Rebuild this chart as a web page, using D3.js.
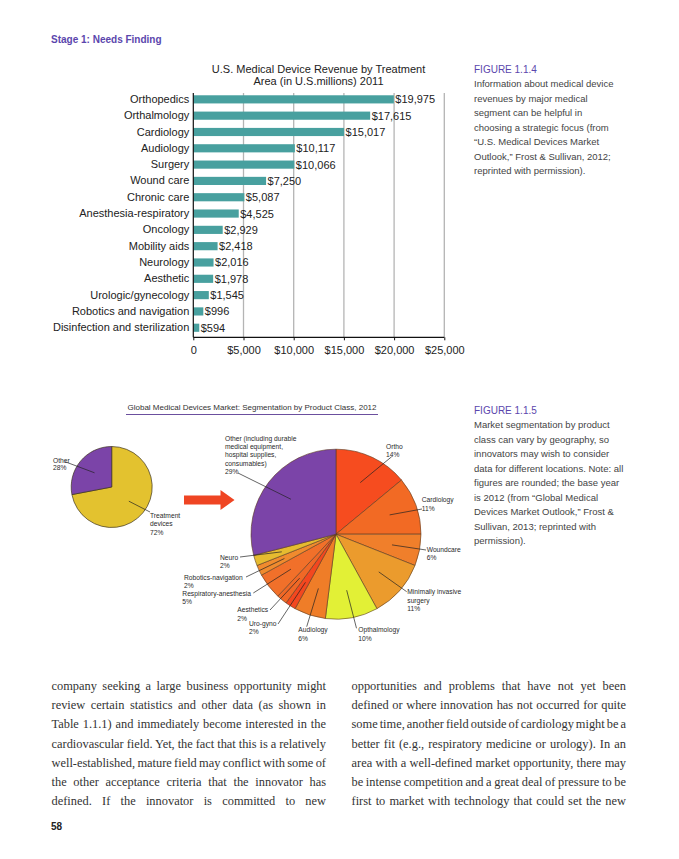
<!DOCTYPE html>
<html><head><meta charset="utf-8">
<script src="https://cdn.jsdelivr.net/npm/d3@7"></script>
<style>body{margin:0;background:#fff}svg{display:block}</style>
</head><body>
<svg id="c" width="679" height="859"></svg>
<script>
// ---------- DATA ----------
const categories = ["Orthopedics","Orthalmology","Cardiology","Audiology","Surgery","Wound care","Chronic care","Anesthesia-respiratory","Oncology","Mobility aids","Neurology","Aesthetic","Urologic/gynecology","Robotics and navigation","Disinfection and sterilization"];
const revenues = [19975,17615,15017,10117,10066,7250,5087,4525,2929,2418,2016,1978,1545,996,594];
const xTicks = [0,5000,10000,15000,20000,25000];

const overviewLabels = ["Treatment\ndevices\n72%","Other\n28%"];
const overviewShares = [72,28];

const segmentLabels = ["Ortho\n14%","Cardiology\n11%","Woundcare\n6%","Minimally invasive\nsurgery\n11%","Opthalmology\n10%","Audiology\n6%","Uro-gyno\n2%","Aesthetics\n2%","Respiratory-anesthesia\n5%","Robotics-navigation\n2%","Neuro\n2%","Other (including durable\nmedical equipment,\nhospital supplies,\nconsumables)\n29%"];
const segmentShares = [14,11,6,11,10,6,2,2,5,2,2,29];

const leftColumn = ["company seeking a large business opportunity might","review certain statistics and other data (as shown in","Table 1.1.1) and immediately become interested in the","cardiovascular field. Yet, the fact that this is a relatively","well-established, mature field may conflict with some of","the other acceptance criteria that the innovator has","defined. If the innovator is committed to new"];
const rightColumn = ["opportunities and problems that have not yet been","defined or where innovation has not occurred for quite","some time, another field outside of cardiology might be a","better fit (e.g., respiratory medicine or urology). In an","area with a well-defined market opportunity, there may","be intense competition and a great deal of pressure to be","first to market with technology that could set the new"];

const caption1 = ["Information about medical device","revenues by major medical","segment can be helpful in","choosing a strategic focus (from","“U.S. Medical Devices Market","Outlook,” Frost & Sullivan, 2012;","reprinted with permission)."];
const caption2 = ["Market segmentation by product","class can vary by geography, so","innovators may wish to consider","data for different locations. Note: all","figures are rounded; the base year","is 2012 (from “Global Medical","Devices Market Outlook,” Frost &","Sullivan, 2013; reprinted with","permission)."];

// ---------- LAYOUT / STYLE ----------
const svg = d3.select("#c");
const SANS = "'Liberation Sans', Arial, sans-serif";
const SERIF = "'Liberation Serif', 'Times New Roman', serif";
const PURPLE = "#5b46ad";
svg.append("rect").attr("width",679).attr("height",859).attr("fill","#fff");

svg.append("text").attr("x",51).attr("y",43).attr("font-family",SANS).attr("font-size",10)
  .attr("font-weight","bold").attr("fill",PURPLE).text("Stage 1: Needs Finding");

// ---------- BAR CHART ----------
const FS = 11;
const x = d3.scaleLinear().domain([0,25000]).range([193.3,444.3]);
const y = d3.scaleBand().domain(categories).range([91.2,335.9]).paddingInner(0.5).paddingOuter(0.25);
const bar = svg.append("g");
const axisY = 337.3, gridTop = 93;

bar.append("text").attr("x",318.5).attr("y",72.5).attr("text-anchor","middle")
  .attr("font-family",SANS).attr("font-size",FS).attr("fill","#222").text("U.S. Medical Device Revenue by Treatment");
bar.append("text").attr("x",318.5).attr("y",85.3).attr("text-anchor","middle")
  .attr("font-family",SANS).attr("font-size",FS).attr("fill","#222").text("Area (in U.S.millions) 2011");

bar.selectAll("line.grid").data(xTicks.slice(1)).join("line").attr("class","grid")
  .attr("x1",d=>x(d)).attr("x2",d=>x(d)).attr("y1",gridTop).attr("y2",axisY)
  .attr("stroke","#b4b4b4").attr("stroke-width",1.3);

bar.selectAll("rect.bar").data(revenues).join("rect").attr("class","bar")
  .attr("x",x(0)).attr("y",(d,i)=>y(categories[i])).attr("width",d=>x(d)-x(0))
  .attr("height",y.bandwidth()).attr("fill","#48a09f");

const fmt = d3.format("$,");
bar.selectAll("text.val").data(revenues).join("text").attr("class","val")
  .attr("x",d=>x(d)+1.5).attr("y",(d,i)=>y(categories[i])+y.bandwidth()/2+4)
  .attr("font-family",SANS).attr("font-size",FS).attr("fill","#222").text(d=>fmt(d));

const yAxis = bar.append("g").attr("transform",`translate(${x(0)},0)`)
  .call(d3.axisLeft(y).tickSize(0).tickPadding(4));
yAxis.select(".domain").remove();
yAxis.selectAll("text").attr("font-family",SANS).attr("font-size",FS).attr("fill","#222");
bar.append("line").attr("x1",x(0)).attr("x2",x(0)).attr("y1",gridTop).attr("y2",axisY).attr("stroke","#111").attr("stroke-width",1.2);

const xAxis = bar.append("g").attr("transform",`translate(0,${axisY})`)
  .call(d3.axisBottom(x).tickValues(xTicks).tickSize(3).tickPadding(6).tickFormat(d=>d===0?"0":fmt(d)));
xAxis.select(".domain").attr("stroke","#111").attr("stroke-width",1.2).attr("d",`M${x(0)},0H${x(25000)}`);
xAxis.selectAll(".tick line").attr("stroke","#111");
xAxis.selectAll("text").attr("font-family",SANS).attr("font-size",FS).attr("fill","#222");

// ---------- CAPTIONS ----------
function caption(title, lines, x0, y0){
  const g = svg.append("g");
  g.append("text").attr("x",x0).attr("y",y0).attr("font-family",SANS).attr("font-size",10).attr("fill",PURPLE).text(title);
  g.selectAll("text.cl").data(lines).join("text").attr("class","cl")
    .attr("x",x0).attr("y",(d,i)=>y0+14.5*(i+1)).attr("font-family",SANS).attr("font-size",9.5)
    .attr("fill","#444").text(d=>d);
}
caption("FIGURE 1.1.4", caption1, 474, 72.5);
caption("FIGURE 1.1.5", caption2, 474, 413.5);

// ---------- PIE SECTION ----------
const pieG = svg.append("g");
pieG.append("text").attr("x",127.5).attr("y",410).attr("font-family",SANS).attr("font-size",8)
  .attr("fill","#333").text("Global Medical Devices Market: Segmentation by Product Class, 2012");
pieG.append("line").attr("x1",126).attr("x2",378).attr("y1",414.5).attr("y2",414.5).attr("stroke","#6b4f9e").attr("stroke-width",1);

const pie = d3.pie().sort(null).value(d=>d).startAngle(0).endAngle(2*Math.PI);

function multiline(g, txt, x0, y0, lh, size){
  const t = g.append("text").attr("font-family",SANS).attr("font-size",size).attr("fill","#2a2a2a");
  txt.split("\n").forEach((s,i)=>t.append("tspan").attr("x",x0).attr("y",y0+i*lh).text(s));
}

// overview pie
const oC = [111.7,487], oR = 40.5;
const oColors = ["#e3c22f","#7b44a8"];
const oArcs = pie(overviewShares);
const oArc = d3.arc().innerRadius(0).outerRadius(oR);
const oMid = d3.arc().innerRadius(oR*0.55).outerRadius(oR*0.55);
const og = pieG.append("g").attr("transform",`translate(${oC})`);
og.selectAll("path").data(oArcs).join("path").attr("d",oArc).attr("fill",(d,i)=>oColors[i])
  .attr("stroke","#3d3320").attr("stroke-width",0.7);
const oLayout = [{tx:150,ty:517.5,lh:8.5,lx:150,ly:512},{tx:53,ty:462.5,lh:7.7,lx:65,ly:461.7}];
oArcs.forEach((a,i)=>{
  const c = oMid.centroid(a), L = oLayout[i];
  pieG.append("line").attr("x1",oC[0]+c[0]).attr("y1",oC[1]+c[1]).attr("x2",L.lx).attr("y2",L.ly)
    .attr("stroke","#222").attr("stroke-width",0.7);
  multiline(pieG, overviewLabels[i], L.tx, L.ty, L.lh, 6.7);
});

// arrow
pieG.append("path").attr("fill","#ef4523")
  .attr("d","M184,495.5H220.5V490L234.5,500L220.5,510V504.5H184Z");

// detailed pie
const bC = [336,534.2], bR = 85;
const bColors = ["#f64c1f","#f26a24","#f07f2b","#eb9b2d","#e2f036","#ef7d28","#f3471f","#f06826","#f1702a","#f08b2e","#e6bb30","#7b44a8"];
const bArcs = pie(segmentShares);
const bArc = d3.arc().innerRadius(0).outerRadius(bR);
const bMid = d3.arc().innerRadius(57).outerRadius(57);
const bg = pieG.append("g").attr("transform",`translate(${bC})`);
bg.selectAll("path").data(bArcs).join("path").attr("d",bArc).attr("fill",(d,i)=>bColors[i])
  .attr("stroke","#5a3a20").attr("stroke-width",0.6);
const bLayout = [
  {tx:386,ty:449,lx:391.7,ly:456.7},
  {tx:421.7,ty:502.3,lx:422,ly:509},
  {tx:426.7,ty:551.8,lx:426,ly:550},
  {tx:407.3,ty:594.3,lx:406.7,ly:591.7},
  {tx:358.3,ty:632.3,lx:356.5,ly:628.3},
  {tx:298.3,ty:632.3,lx:306.7,ly:626.7},
  {tx:249,ty:625.6,lx:278,ly:624},
  {tx:237.3,ty:612.3,lx:270,ly:610},
  {tx:182.3,ty:595.6,lx:253.3,ly:593},
  {tx:184,ty:579.6,lx:246,ly:577},
  {tx:220,ty:559.6,lx:240,ly:557},
  {tx:225,ty:440.6,lx:238,ly:473}
];
bArcs.forEach((a,i)=>{
  const c = bMid.centroid(a), L = bLayout[i];
  pieG.append("line").attr("x1",bC[0]+c[0]).attr("y1",bC[1]+c[1]).attr("x2",L.lx).attr("y2",L.ly)
    .attr("stroke","#222").attr("stroke-width",0.7);
});
bArcs.forEach((a,i)=>{ const L=bLayout[i]; multiline(pieG, segmentLabels[i], L.tx, L.ty, 8.3, 6.7); });

// ---------- BODY TEXT ----------
function column(lines, x0, x1, y0){
  const g = svg.append("g");
  lines.forEach((s,i)=>{
    const t = g.append("text").attr("x",x0).attr("y",y0+i*19.2).attr("font-family",SERIF)
      .attr("font-size",12.4).attr("fill","#333").text(s);
    const w = t.node().getComputedTextLength();
    const gaps = s.split(" ").length-1;
    if(gaps>0) t.attr("word-spacing",(x1-x0-w)/gaps);
  });
}
column(leftColumn, 51.5, 326, 690);
column(rightColumn, 351.5, 626, 690);

svg.append("text").attr("x",51).attr("y",830).attr("font-family",SANS).attr("font-size",10)
  .attr("font-weight","bold").attr("fill","#222").text("58");
</script>
</body></html>
